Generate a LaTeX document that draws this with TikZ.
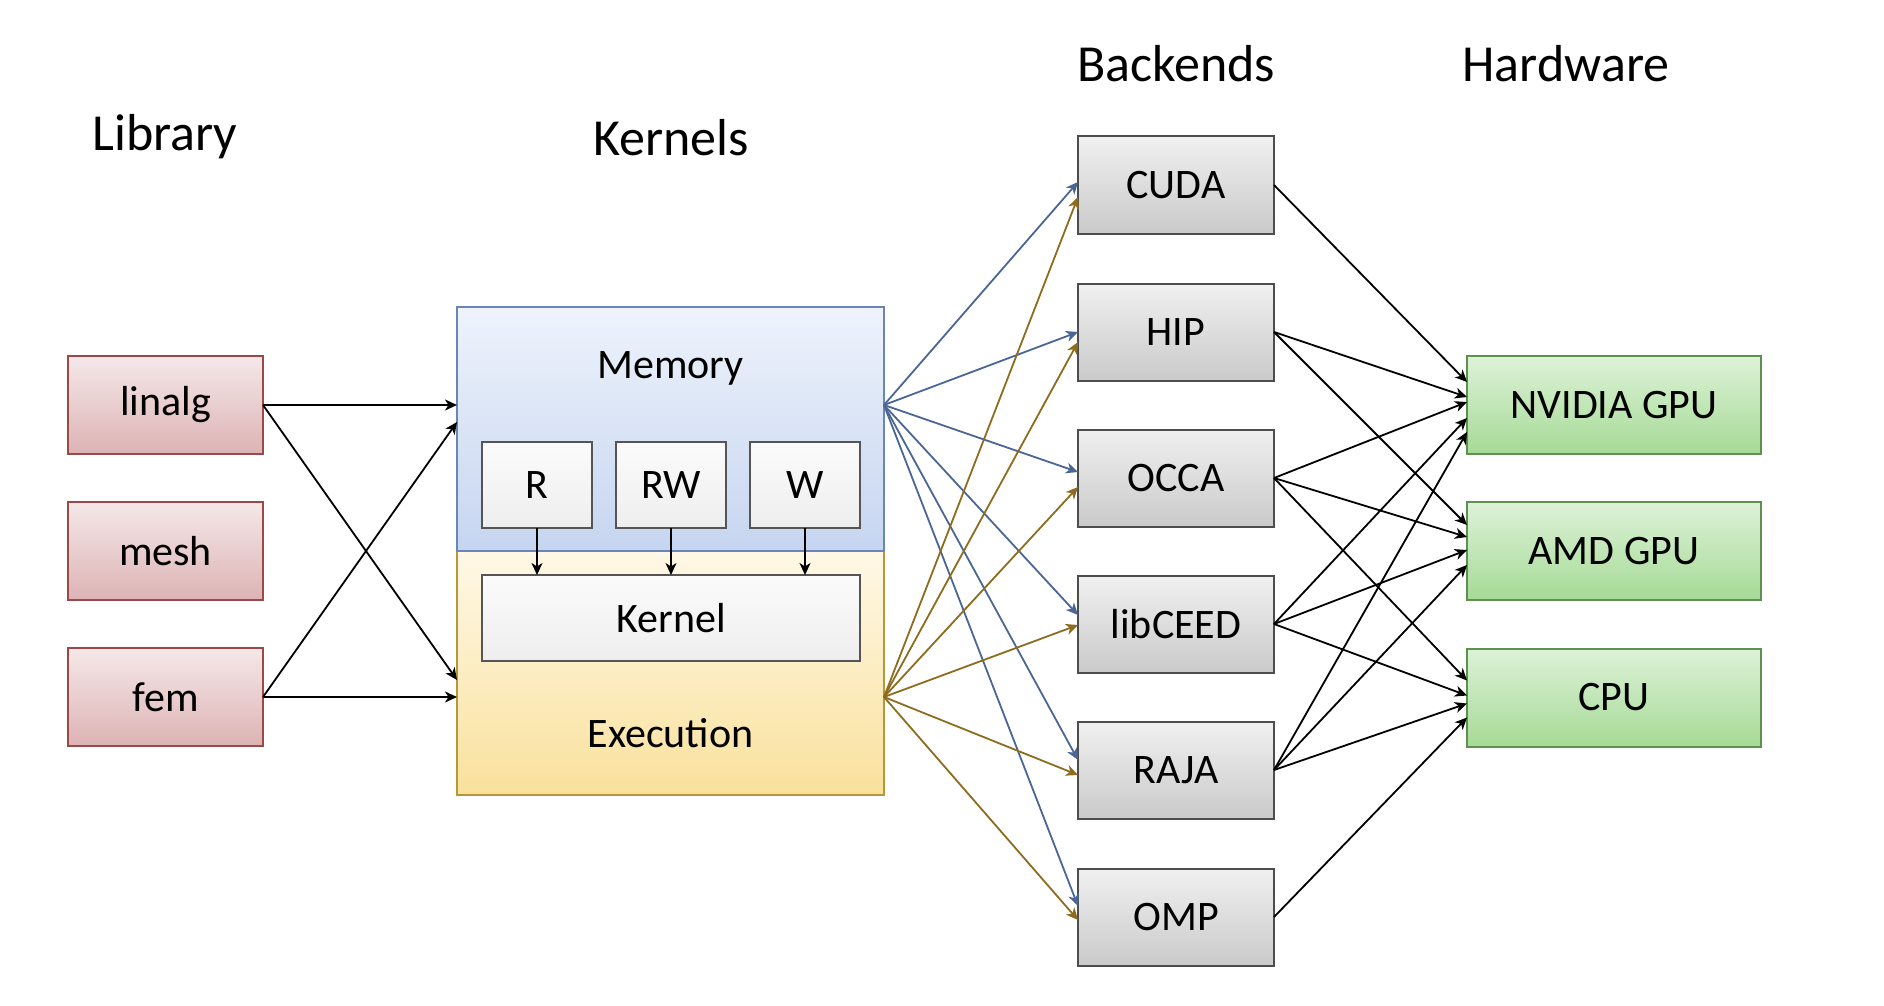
\documentclass[tikz,border=0pt]{standalone}
\usepackage{fontspec}
\setmainfont{Carlito}
\usetikzlibrary{arrows.meta}
\definecolor{libtop}{HTML}{F5E8E9}
\definecolor{libbot}{HTML}{DDB3B4}
\definecolor{libdraw}{HTML}{9A4848}
\definecolor{bktop}{HTML}{F0F0F0}
\definecolor{bkbot}{HTML}{CACACA}
\definecolor{bkdraw}{HTML}{4D4D4D}
\definecolor{hwtop}{HTML}{DDF2D8}
\definecolor{hwbot}{HTML}{A6DA96}
\definecolor{hwdraw}{HTML}{5E9150}
\definecolor{memtop}{HTML}{EEF3FC}
\definecolor{membot}{HTML}{C6D5F0}
\definecolor{memdraw}{HTML}{6A86B6}
\definecolor{exetop}{HTML}{FFF8E7}
\definecolor{exebot}{HTML}{F9E19C}
\definecolor{exedraw}{HTML}{B69838}
\definecolor{intop}{HTML}{FBFBFB}
\definecolor{inbot}{HTML}{EEEEEE}
\definecolor{indraw}{HTML}{555555}
\definecolor{bluearrow}{HTML}{4A6696}
\definecolor{yelarrow}{HTML}{8E6C1F}
\begin{document}
\begin{tikzpicture}[x=1pt,y=-1pt,
  boxfont/.style={font=\fontsize{42}{50}\selectfont},
  titlefont/.style={font=\fontsize{52}{60}\selectfont},
  base/.style={draw, line width=2pt, rectangle, inner sep=0pt, outer sep=0pt, boxfont},
  libbox/.style={base, draw=libdraw, top color=libtop, bottom color=libbot, minimum width=195pt, minimum height=98pt},
  bkbox/.style={base, draw=bkdraw, top color=bktop, bottom color=bkbot, minimum width=196pt, minimum height=97pt},
  hwbox/.style={base, draw=hwdraw, top color=hwtop, bottom color=hwbot, minimum width=294pt, minimum height=98pt},
  membox/.style={base, draw=memdraw, top color=memtop, bottom color=membot, minimum width=427pt, minimum height=244pt},
  exebox/.style={base, draw=exedraw, top color=exetop, bottom color=exebot, minimum width=427pt, minimum height=244pt},
  inbox/.style={base, draw=indraw, top color=intop, bottom color=inbot, minimum height=86pt},
  tip/.style={-{Stealth[length=12pt,width=11pt,inset=3.5pt]}},
  blk/.style={tip, line width=1.8pt, black},
  bluearr/.style={tip, line width=1.8pt, bluearrow},
  yelarr/.style={tip, line width=1.8pt, yelarrow},
  title/.style={titlefont, anchor=base, inner sep=0pt}
]
\useasboundingbox (0,0) rectangle (1884,1006);

% titles
\node[title] (tlib) at (165,150) {Library};
\node[title] (tker) at (671,155) {Kernels};
\node[title] (tbk) at (1176,82) {Backends};
\node[title] (thw) at (1566,82) {Hardware};

% library
\node[libbox] (linalg) at (165.5,405) {linalg};
\node[libbox] (mesh) at (165.5,551) {mesh};
\node[libbox] (fem) at (165.5,697) {fem};

% kernels
\node[exebox] (exe) at (670.5,673) {};
\node[membox] (mem) at (670.5,429) {};
\node[boxfont, anchor=base, inner sep=0pt] (memlab) at (670.5,378) {Memory};
\node[boxfont, anchor=base, inner sep=0pt] (exelab) at (670.5,747) {Execution};
\node[inbox, minimum width=110pt] (r) at (537,485) {R};
\node[inbox, minimum width=110pt] (rw) at (671,485) {RW};
\node[inbox, minimum width=110pt] (w) at (805,485) {W};
\node[inbox, minimum width=378pt] (kernel) at (671,618) {Kernel};
\foreach \n in {r,rw,w}
  \draw[blk, line width=1.6pt] (\n.south) -- (\n.south |- kernel.north);

% backends
\node[bkbox] (cuda) at (1176,185) {CUDA};
\node[bkbox] (hip) at (1176,332) {HIP};
\node[bkbox] (occa) at (1176,478) {OCCA};
\node[bkbox] (ceed) at (1176,624) {libCEED};
\node[bkbox] (raja) at (1176,770) {RAJA};
\node[bkbox] (omp) at (1176,917) {OMP};

% hardware
\node[hwbox] (nv) at (1614,405) {NVIDIA GPU};
\node[hwbox] (amd) at (1614,551) {AMD GPU};
\node[hwbox] (cpu) at (1614,697.5) {CPU};

% library -> kernels
\draw[blk] (linalg.east) -- (mem.west |- linalg.east);
\draw[blk] (linalg.east) -- ([yshift=-7pt]exe.west);
\draw[blk] (fem.east) -- ([yshift=7pt]mem.west);
\draw[blk] (fem.east) -- (exe.west |- fem.east);

% kernels -> backends
\coordinate (mout) at ([yshift=24pt]mem.east);
\coordinate (eout) at ([yshift=-24pt]exe.east);
\foreach \t/\d in {cuda/3pt, hip/0pt, occa/6pt, ceed/9pt, raja/10pt, omp/11pt}
  \draw[bluearr] (mout) -- ([yshift=\d]\t.west);
\foreach \t/\d in {cuda/-12pt, hip/-10pt, occa/-9pt, ceed/-1pt, raja/-5pt, omp/-3pt}
  \draw[yelarr] (eout) -- ([yshift=\d]\t.west);

% backends -> hardware
\foreach \s/\t/\d in {cuda/nv/23pt, hip/nv/8pt, hip/amd/26pt,
    occa/nv/3pt, occa/amd/14pt, occa/cpu/17pt,
    ceed/nv/-13pt, ceed/amd/1pt, ceed/cpu/2pt,
    raja/nv/-27pt, raja/amd/-14pt, raja/cpu/-6pt,
    omp/cpu/-20pt}
  \draw[blk] (\s.east) -- ([yshift=\d]\t.west);
\end{tikzpicture}
\end{document}
